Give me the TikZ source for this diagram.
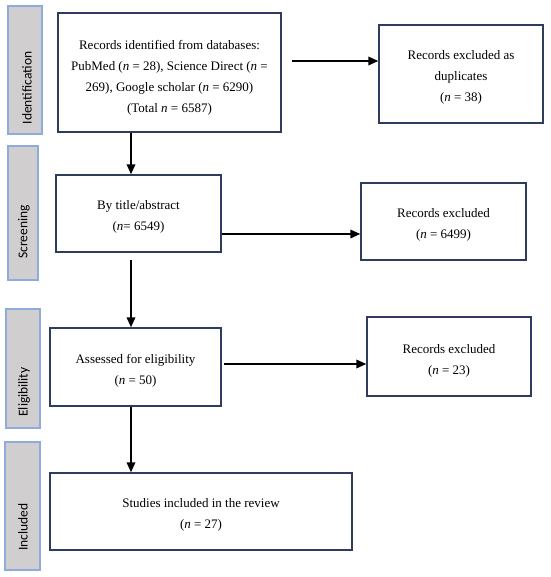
\documentclass[tikz,border=0pt]{standalone}
\usepackage{fontspec}
\setmainfont{Liberation Serif}
\newfontfamily\labfont{Carlito}
\usetikzlibrary{arrows.meta,calc}
\definecolor{boxline}{HTML}{2E3D5C}
\definecolor{sidefill}{HTML}{D0CECE}
\definecolor{sideline}{HTML}{8FAADC}
\tikzset{
  box/.style={draw=boxline, line width=1.4pt, fill=white, inner sep=0pt},
  btext/.style={inner sep=0pt, align=center, font=\fontsize{13}{21}\selectfont},
  side/.style={draw=sideline, fill=sidefill, line width=1.1pt, inner sep=0pt},
  sidetext/.style={rotate=90, inner sep=0pt, font=\labfont\fontsize{13.5}{15}\selectfont},
  arr/.style={-{Triangle[length=10pt,width=8.5pt]}, line width=1.9pt}
}
\begin{document}
\begin{tikzpicture}[x=1pt,y=-1pt]
\useasboundingbox (0,0) rectangle (550,577);
% side labels
\node[side, minimum width=34, minimum height=128] (sid) at (25,70) {};
\node[sidetext] (tid) at (27,88) {Identification};
\node[side, minimum width=30, minimum height=134] (ssc) at (23,213) {};
\node[sidetext] (tsc) at (24,232) {Screening};
\node[side, minimum width=34, minimum height=119] (sel) at (23,368.5) {};
\node[sidetext] (tel) at (24,392) {Eligibility};
\node[side, minimum width=35, minimum height=128] (sin) at (22.5,506) {};
\node[sidetext] (tin) at (23,527) {Included};
% main boxes
\node[box, minimum width=223, minimum height=119] (b1) at (169.5,72.5) {};
\node[btext] (b1t) at ([yshift=-5pt]b1.center)
  {Records identified from databases:\\ PubMed (\textit{n} = 28), Science Direct (\textit{n} =\\ 269), Google scholar (\textit{n} = 6290)\\ (Total \textit{n} = 6587)};
\node[box, minimum width=164, minimum height=98] (d1) at (461,74) {};
\node[btext] (d1t) at ([yshift=-3pt]d1.center)
  {Records excluded as\\ duplicates\\ (\textit{n} = 38)};
\node[box, minimum width=165, minimum height=77] (b2) at (138.5,213.5) {};
\node[btext] (b2t) at ([yshift=-3pt]b2.center)
  {By title/abstract\\ (\textit{n}= 6549)};
\node[box, minimum width=165, minimum height=77] (e1) at (443.5,221.5) {};
\node[btext] (e1t) at ([yshift=-3pt]e1.center)
  {Records excluded\\ (\textit{n} = 6499)};
\node[box, minimum width=171, minimum height=78] (b3) at (135.5,367) {};
\node[btext] (b3t) at ([yshift=-4pt]b3.center)
  {Assessed for eligibility\\ (\textit{n} = 50)};
\node[box, minimum width=164, minimum height=79] (e2) at (449,356.5) {};
\node[btext] (e2t) at ([yshift=-4pt]e2.center)
  {Records excluded\\ (\textit{n} = 23)};
\node[box, minimum width=302, minimum height=77] (b4) at (201,511.5) {};
\node[btext] (b4t) at ([yshift=-3pt]b4.center)
  {Studies included in the review\\ (\textit{n} = 27)};
% connectors
\coordinate (vx) at (131,0);
\coordinate (h1) at (0,61);
\coordinate (h2) at (0,234);
\coordinate (h3) at (0,364);
\draw[arr] (b1.south -| vx) -- (b2.north -| vx);
\draw[arr, shorten <=7pt] (b2.south -| vx) -- (b3.north -| vx);
\draw[arr] (b3.south -| vx) -- (b4.north -| vx);
\draw[arr, shorten <=10pt] (b1.east |- h1) -- (d1.west |- h1);
\draw[arr] (b2.east |- h2) -- (e1.west |- h2);
\draw[arr, shorten <=2pt] (b3.east |- h3) -- (e2.west |- h3);
\end{tikzpicture}
\end{document}
